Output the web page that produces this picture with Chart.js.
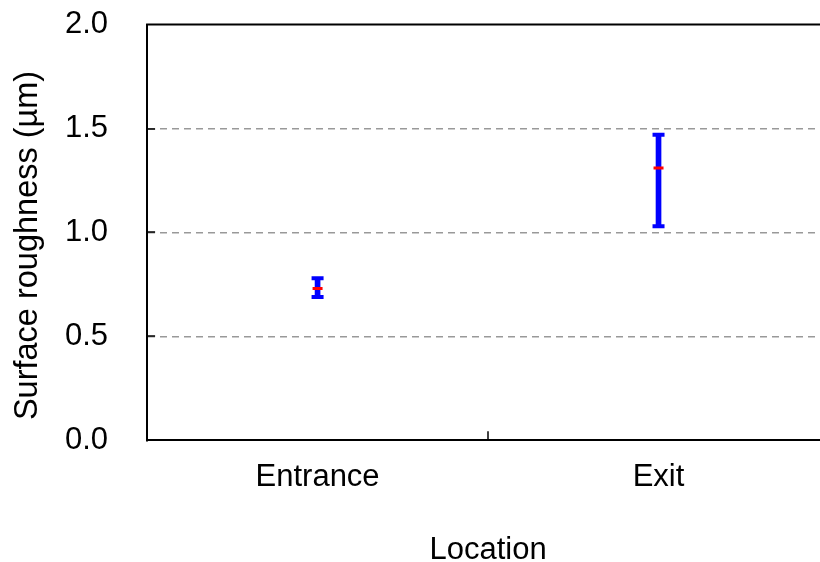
<!DOCTYPE html>
<html>
<head>
<meta charset="utf-8">
<script src="https://cdn.jsdelivr.net/npm/chart.js@4/dist/chart.umd.min.js"></script>
<style>
  html, body { margin: 0; padding: 0; background: #fff; overflow: hidden; }
</style>
</head>
<body>
<canvas id="chart" width="840" height="562"></canvas>
<script>
const locations = ['Entrance', 'Exit'];
const meanRoughness = [0.73, 1.31];
const upperRoughness = [0.78, 1.47];
const lowerRoughness = [0.69, 1.03];
const yTicks = [0, 0.5, 1.0, 1.5, 2.0];
const yTitle = 'Surface roughness (µm)';

const FONT = "'Liberation Sans', Arial, sans-serif";

// inward tick marks, top frame line, y title (sits a bit below centre in the original)
const framePlugin = {
  id: 'frame',
  afterDraw(chart) {
    const { ctx, chartArea, scales } = chart;
    const y = scales.y, x = scales.x;
    ctx.save();
    ctx.strokeStyle = '#000';
    ctx.lineWidth = 2;
    ctx.beginPath();
    ctx.moveTo(chartArea.left - 1, y.getPixelForValue(2));
    ctx.lineTo(chartArea.right, y.getPixelForValue(2));
    ctx.stroke();

    ctx.lineWidth = 1.5;
    yTicks.slice(1, -1).forEach((v) => {
      const py = Math.round(y.getPixelForValue(v));
      ctx.beginPath();
      ctx.moveTo(chartArea.left, py);
      ctx.lineTo(chartArea.left + 8, py);
      ctx.stroke();
    });
    for (let i = 0; i < locations.length - 1; i++) {
      const px = Math.round((x.getPixelForValue(i) + x.getPixelForValue(i + 1)) / 2);
      ctx.beginPath();
      ctx.moveTo(px, chartArea.bottom);
      ctx.lineTo(px, chartArea.bottom - 9);
      ctx.stroke();
    }

    ctx.translate(28, (chartArea.top + chartArea.bottom) / 2 + 13);
    ctx.rotate(-Math.PI / 2);
    ctx.fillStyle = '#000';
    ctx.font = '32.5px ' + FONT;
    ctx.textAlign = 'center';
    ctx.textBaseline = 'middle';
    ctx.fillText(yTitle, 0, 0);
    ctx.restore();
  }
};

new Chart(document.getElementById('chart'), {
  type: 'bar',
  data: {
    labels: locations,
    datasets: [
      {
        type: 'line',
        label: 'Mean',
        data: meanRoughness,
        showLine: false,
        pointStyle: 'line',
        pointRadius: 5,
        pointBorderWidth: 3,
        borderColor: '#ff0000',
        backgroundColor: '#ff0000',
        order: 1
      },
      {
        type: 'line',
        label: 'Upper',
        data: upperRoughness,
        showLine: false,
        pointStyle: 'line',
        pointRadius: 6,
        pointBorderWidth: 4,
        borderColor: '#0000ff',
        order: 2
      },
      {
        type: 'line',
        label: 'Lower',
        data: lowerRoughness,
        showLine: false,
        pointStyle: 'line',
        pointRadius: 6,
        pointBorderWidth: 4,
        borderColor: '#0000ff',
        order: 2
      },
      {
        label: 'Range',
        data: locations.map((_, i) => [lowerRoughness[i], upperRoughness[i]]),
        backgroundColor: '#0000ff',
        barThickness: 5,
        order: 3
      }
    ]
  },
  options: {
    responsive: false,
    animation: false,
    layout: { padding: { top: 0, right: 11, left: 59, bottom: 0 } },
    plugins: {
      legend: { display: false },
      tooltip: { enabled: false }
    },
    scales: {
      x: {
        offset: true,
        grid: { display: false, drawTicks: false },
        border: { display: true, color: '#000', width: 2 },
        ticks: { color: '#000', padding: 19, font: { family: FONT, size: 31 } },
        title: {
          display: true,
          text: 'Location',
          color: '#000',
          font: { family: FONT, size: 31, lineHeight: 1 },
          padding: { top: 19, bottom: -3.5 }
        }
      },
      y: {
        min: 0,
        max: 2,
        ticks: {
          stepSize: 0.5,
          color: '#000',
          padding: 6,
          font: { family: FONT, size: 31 },
          callback: (v) => Number(v).toFixed(1)
        },
        grid: {
          drawTicks: true,
          tickLength: 33,
          tickColor: 'rgba(0,0,0,0)',
          lineWidth: 1.5,
          color: (c) => (c.tick && c.tick.value > 0 && c.tick.value < 2 ? '#999999' : 'rgba(0,0,0,0)')
        },
        border: { display: true, color: '#000', width: 2, dash: [7, 5] },
        title: { display: false }
      }
    }
  },
  plugins: [framePlugin]
});
</script>
</body>
</html>
